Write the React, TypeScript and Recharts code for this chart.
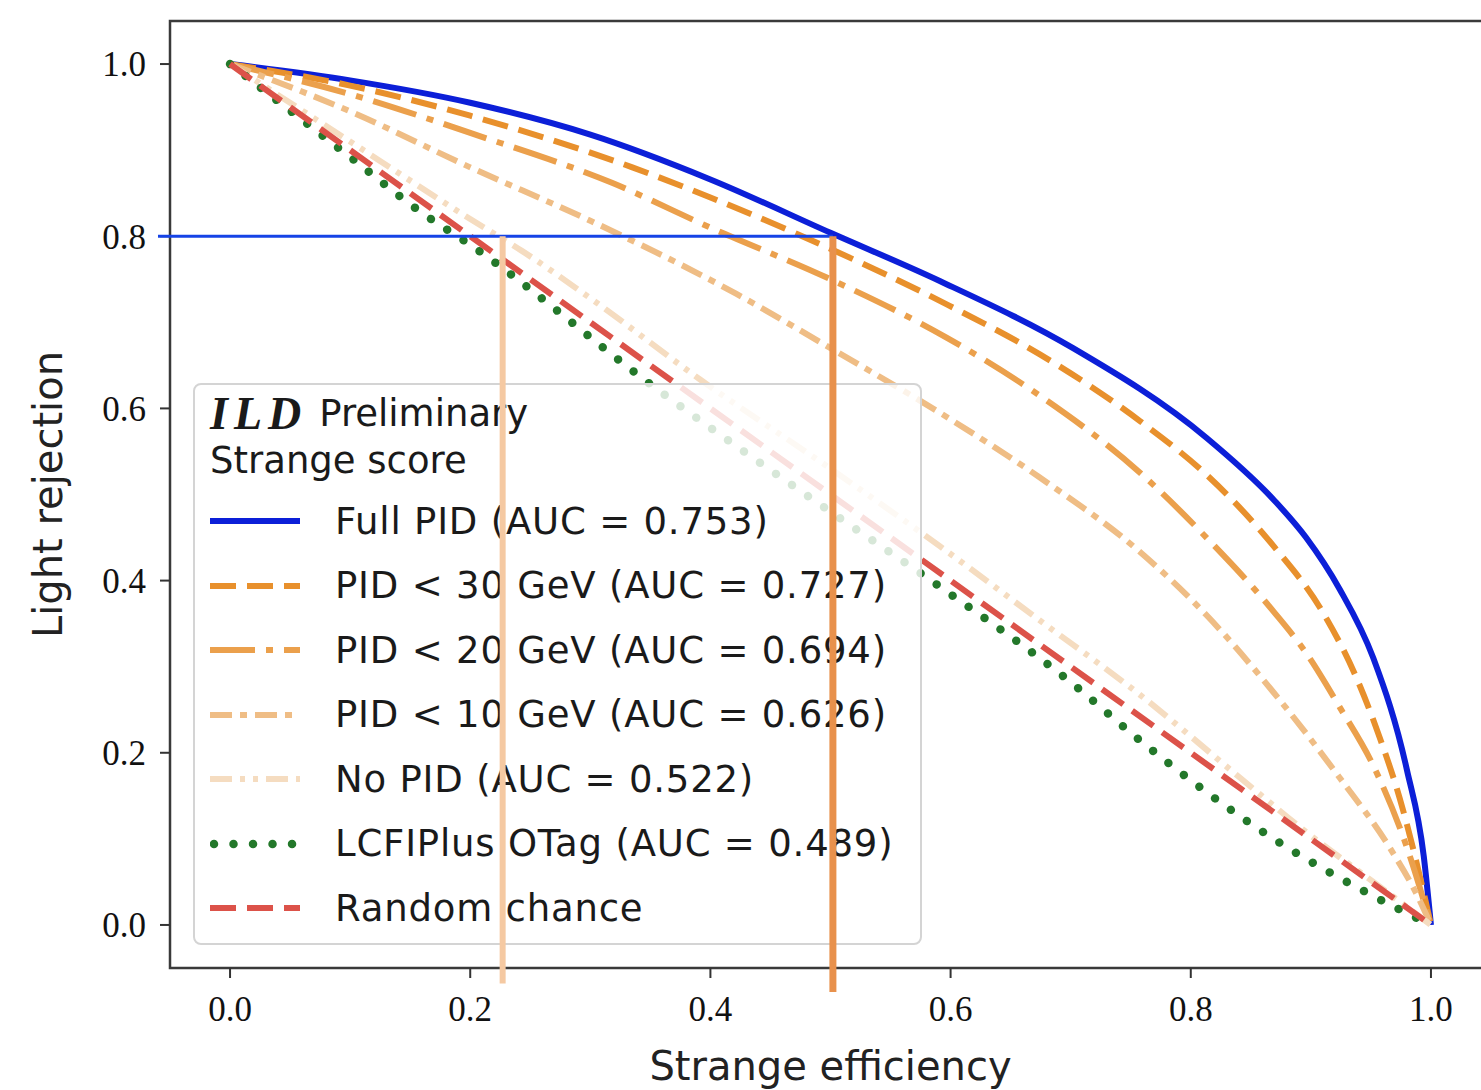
import { ComposedChart, Line, XAxis, YAxis, ReferenceLine, ReferenceArea } from 'recharts';

// ROC points: [strange efficiency, light rejection]
const fullPid: [number, number][] = [
  [0, 1], [0.1, 0.981], [0.2, 0.955], [0.3, 0.918], [0.4, 0.866], [0.5, 0.804],
  [0.591, 0.748], [0.702, 0.67], [0.813, 0.566], [0.869, 0.494], [0.896, 0.45],
  [0.924, 0.39], [0.952, 0.31], [0.98, 0.18], [0.994, 0.08], [1, 0],
];
const pid30: [number, number][] = [
  [0, 1], [0.1, 0.975], [0.2, 0.94], [0.335, 0.88], [0.4, 0.845], [0.502, 0.784],
  [0.598, 0.72], [0.674, 0.663], [0.758, 0.585], [0.813, 0.523], [0.869, 0.44],
  [0.91, 0.363], [0.938, 0.287], [0.957, 0.219], [0.974, 0.147], [0.991, 0.055], [1, 0],
];
const pid20: [number, number][] = [
  [0, 1], [0.1, 0.965], [0.2, 0.92], [0.318, 0.862], [0.4, 0.81], [0.5, 0.75],
  [0.597, 0.682], [0.674, 0.615], [0.758, 0.525], [0.813, 0.45], [0.869, 0.364],
  [0.896, 0.316], [0.924, 0.253], [0.952, 0.185], [0.98, 0.09], [1, 0],
];
const pid10: [number, number][] = [
  [0, 1], [0.1, 0.945], [0.2, 0.88], [0.3, 0.818], [0.4217, 0.733], [0.5, 0.67],
  [0.591, 0.595], [0.674, 0.52], [0.758, 0.433], [0.813, 0.36], [0.869, 0.27],
  [0.924, 0.171], [0.966, 0.089], [0.988, 0.036], [1, 0],
];
const noPid: [number, number][] = [
  [0, 1], [0.1, 0.91], [0.2, 0.82], [0.243, 0.783], [0.3, 0.728], [0.392, 0.633],
  [0.5, 0.53], [0.591, 0.44], [0.674, 0.354], [0.758, 0.267], [0.841, 0.171],
  [0.896, 0.108], [0.952, 0.05], [1, 0],
];
const lcfiPlus: [number, number][] = [
  [0, 1], [0.1, 0.892], [0.16, 0.827], [0.2, 0.79], [0.353, 0.625], [0.5, 0.48],
  [0.591, 0.393], [0.7, 0.282], [0.758, 0.214], [0.869, 0.1], [0.95, 0.035], [1, 0],
];
const randomChance: [number, number][] = [[0, 1], [1, 0]];

const ticks = [0, 0.2, 0.4, 0.6, 0.8, 1.0];
const domain: [number, number] = [-0.05, 1.05];

// working point annotations
const workingRejection = 0.8;
const fullPidCut = 0.502;
const noPidCut = 0.227;

const series = [
  { name: 'Full PID (AUC = 0.753)', pts: fullPid, color: '#0c1fd8', dash: undefined, width: 6, cap: 'butt' },
  { name: 'PID < 30 GeV (AUC = 0.727)', pts: pid30, color: '#e8902c', dash: '26 11', width: 6, cap: 'butt' },
  { name: 'PID < 20 GeV (AUC = 0.694)', pts: pid20, color: '#eba04c', dash: '45 11 7 11', width: 6, cap: 'butt' },
  { name: 'PID < 10 GeV (AUC = 0.626)', pts: pid10, color: '#efbd85', dash: '22 8 7 8', width: 6, cap: 'butt' },
  { name: 'No PID (AUC = 0.522)', pts: noPid, color: '#f5dcc0', dash: '22 8 5 8 5 8', width: 6, cap: 'butt' },
  { name: 'LCFIPlus OTag (AUC = 0.489)', pts: lcfiPlus, color: '#23782a', dash: '0.01 19.5', width: 8.5, cap: 'round' },
  { name: 'Random chance', pts: randomChance, color: '#dc5249', dash: '26 11', width: 6, cap: 'butt' },
];

const W = 1500;
const H = 1090;
const margin = { top: 21, right: 9, bottom: 0, left: 0 };
const tickFont = { fontFamily: 'Liberation Serif', fontSize: 35, fill: '#111' };
const sans = 'DejaVu Sans';

function toXY(pts: [number, number][]) {
  return pts.map(([x, y]) => ({ x, y }));
}

export default function App() {
  return (
    <div style={{ position: 'fixed', left: 0, top: 0, width: 1481, height: 1090, overflow: 'hidden', background: '#fff' }}>
      <div style={{ position: 'absolute', left: 0, top: 0 }}>
        <ComposedChart width={W} height={H} margin={margin}>
          <XAxis
            type="number" dataKey="x" domain={domain} ticks={ticks} allowDataOverflow
            height={122} axisLine={false} tickSize={10} tickMargin={18}
            tickLine={{ stroke: '#333', strokeWidth: 2 }}
            tick={tickFont} tickFormatter={(v: number) => v.toFixed(1)}
            label={{ value: 'Strange efficiency', position: 'insideBottom', offset: 10, style: { fontFamily: sans, fontSize: 40, fill: '#222' } }}
          />
          <YAxis
            type="number" dataKey="y" domain={domain} ticks={ticks} allowDataOverflow
            width={170} axisLine={false} tickSize={10} tickMargin={14}
            tickLine={{ stroke: '#333', strokeWidth: 2 }}
            tick={tickFont} tickFormatter={(v: number) => v.toFixed(1)}
            label={{ value: 'Light rejection', angle: -90, position: 'insideLeft', offset: 48, style: { fontFamily: sans, fontSize: 40, fill: '#222', textAnchor: 'middle' } }}
          />
          <ReferenceArea x1={-0.05} x2={1.05} y1={-0.05} y2={1.05} fill="none" stroke="#3a3a3a" strokeWidth={2.5} ifOverflow="visible" />
          {series.map((s) => (
            <Line
              key={s.name}
              data={toXY(s.pts)}
              dataKey="y"
              type="monotone"
              stroke={s.color}
              strokeWidth={s.width}
              strokeDasharray={s.dash}
              strokeLinecap={s.cap as 'butt' | 'round'}
              dot={false}
              activeDot={false}
              isAnimationActive={false}
            />
          ))}
        </ComposedChart>
      </div>

      {/* legend box, drawn over the curves */}
      <div style={{
        position: 'absolute', left: 193, top: 383, width: 729, height: 562, boxSizing: 'border-box',
        border: '2px solid #d4d4d4', borderRadius: 8, background: 'rgba(255,255,255,0.82)',
        fontFamily: sans, fontSize: 37, letterSpacing: 0.8, color: '#1a1a1a',
      }}>
        <div style={{ position: 'absolute', left: 15, top: 3, height: 50, display: 'flex', alignItems: 'center', whiteSpace: 'nowrap', letterSpacing: 0 }}>
          <span style={{ fontFamily: 'Liberation Serif', fontStyle: 'italic', fontWeight: 'bold', fontSize: 46, letterSpacing: 6, marginRight: 12 }}>ILD</span>
          <span>Preliminary</span>
        </div>
        <div style={{ position: 'absolute', left: 15, top: 50, height: 50, display: 'flex', alignItems: 'center', whiteSpace: 'nowrap', letterSpacing: 0 }}>
          Strange score
        </div>
        {series.map((s, i) => (
          <div key={s.name} style={{ position: 'absolute', left: 15, top: 111 + i * 64.5, height: 50, display: 'flex', alignItems: 'center', whiteSpace: 'nowrap' }}>
            <svg width={90} height={12} style={{ marginRight: 35 }}>
              <line x1={s.cap === 'round' ? 4 : 0} y1={6} x2={90} y2={6} stroke={s.color} strokeWidth={s.width} strokeDasharray={s.dash} strokeLinecap={s.cap as 'butt' | 'round'} />
            </svg>
            <span>{s.name}</span>
          </div>
        ))}
      </div>

      {/* working-point annotations, drawn over the legend */}
      <div style={{ position: 'absolute', left: 0, top: 0 }}>
        <ComposedChart width={W} height={H} margin={margin}>
          <XAxis type="number" dataKey="x" domain={domain} ticks={ticks} height={122} axisLine={false} tickLine={false} tick={false} />
          <YAxis type="number" dataKey="y" domain={domain} ticks={ticks} width={170} axisLine={false} tickLine={false} tick={false} />
          <Line data={toXY(randomChance)} dataKey="y" stroke="none" dot={false} activeDot={false} isAnimationActive={false} />
          <ReferenceLine segment={[{ x: -0.06, y: workingRejection }, { x: fullPidCut, y: workingRejection }]} stroke="#1543e6" strokeWidth={3} ifOverflow="visible" />
          <ReferenceLine segment={[{ x: noPidCut, y: workingRejection }, { x: noPidCut, y: -0.068 }]} stroke="#f5c9a2" strokeWidth={6} ifOverflow="visible" />
          <ReferenceLine segment={[{ x: fullPidCut, y: workingRejection }, { x: fullPidCut, y: -0.078 }]} stroke="#e8914c" strokeWidth={7} ifOverflow="visible" />
        </ComposedChart>
      </div>
    </div>
  );
}
